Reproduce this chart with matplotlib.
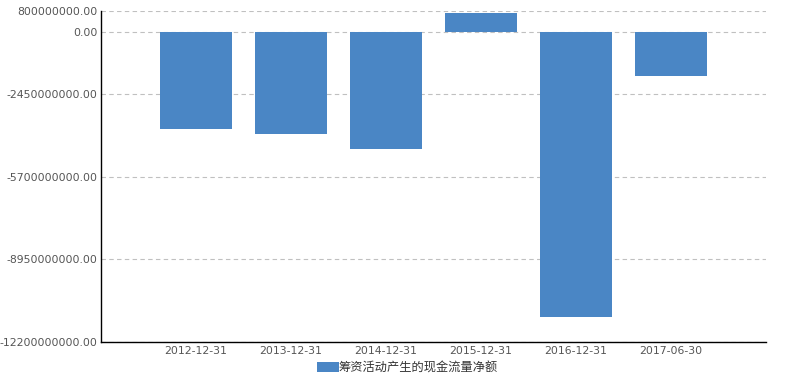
import matplotlib
matplotlib.use("Agg")
import matplotlib.pyplot as plt
from matplotlib.ticker import FuncFormatter

plt.rcParams['font.family'] = ['DejaVu Sans', 'Noto Sans CJK SC']

# Net cash flow from financing activities (CNY)
DATES = ["2012-12-31", "2013-12-31", "2014-12-31", "2015-12-31", "2016-12-31", "2017-06-30"]
VALUES = [-3.82e9, -4.02e9, -4.61e9, 0.75e9, -11.23e9, -1.73e9]
SERIES_NAME = "筹资活动产生的现金流量净额"
Y_TICKS = [800000000, 0, -2450000000, -5700000000, -8950000000, -12200000000]

BAR_COLOR = "#4A86C5"
TEXT_COLOR = "#555555"
GRID_COLOR = "#c0c0c0"

fig = plt.figure(figsize=(7.91, 3.78), dpi=100)
ax = fig.add_axes([101 / 791, 1 - 342 / 378, 665 / 791, (342 - 11.3) / 378])

xs = list(range(len(DATES)))
ax.bar(xs, VALUES, width=0.758, color=BAR_COLOR, zorder=2, label=SERIES_NAME)

ax.set_xlim(-1, len(DATES))
ax.set_ylim(Y_TICKS[-1], Y_TICKS[0])
ax.set_yticks(Y_TICKS)
ax.yaxis.set_major_formatter(FuncFormatter(lambda v, _: f"{v:.2f}"))
ax.set_xticks(xs)
ax.set_xticklabels(DATES)
ax.tick_params(axis="both", length=0, labelsize=7.8, labelcolor=TEXT_COLOR)
ax.tick_params(axis="y", pad=2.5)
ax.tick_params(axis="x", pad=3)

ax.grid(True, axis="y", linestyle=(0, (4, 3)), linewidth=0.8, color=GRID_COLOR, zorder=0)
for spine in ("top", "right"):
    ax.spines[spine].set_visible(False)
for spine in ("bottom", "left"):
    ax.spines[spine].set_color("black")
    ax.spines[spine].set_linewidth(1.0)

leg = fig.legend(
    loc="center",
    bbox_to_anchor=(407.5 / 791, 1 - 368 / 378),
    frameon=False,
    handlelength=1.8,
    handleheight=0.9,
    handletextpad=0.0,
    prop={"family": ["Noto Sans CJK SC", "DejaVu Sans"], "size": 8.8},
)
for t in leg.get_texts():
    t.set_color("#333333")

fig.savefig("out.png", dpi=100)
